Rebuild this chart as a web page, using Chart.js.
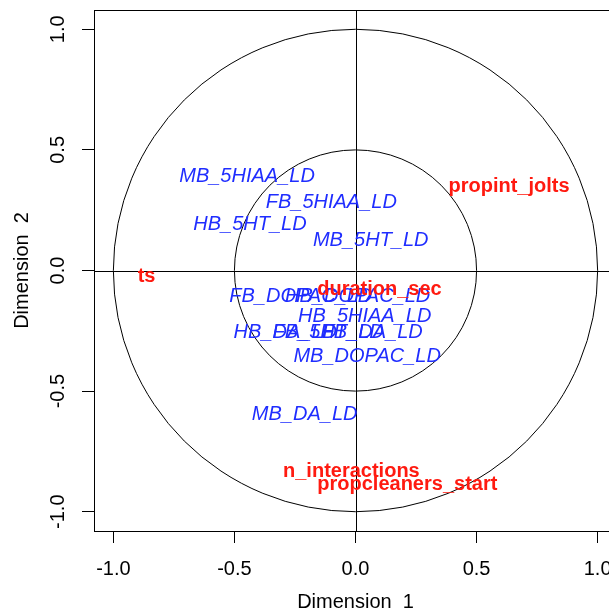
<!DOCTYPE html>
<html>
<head>
<meta charset="utf-8">
<script src="https://cdn.jsdelivr.net/npm/chart.js@4.4.1/dist/chart.umd.min.js"></script>
<style>
  html, body { margin: 0; padding: 0; overflow: hidden; background: #fff; }
  canvas { display: block; }
</style>
</head>
<body>
<canvas id="corrCircle" width="620" height="614"></canvas>
<script>
// variables (label centres)
var blueNames = ["MB_5HIAA_LD", "FB_5HIAA_LD", "HB_5HT_LD", "MB_5HT_LD", "FB_DOPAC_LD", "HB_DOPAC_LD",
  "HB_5HIAA_LD", "HB_DA_LD", "FB_5HT_LD", "FB_DA_LD", "MB_DOPAC_LD", "MB_DA_LD"];
var blueX = [-0.448, -0.100, -0.436, 0.063, -0.226, 0.009, 0.038, -0.290, -0.113, 0.069, 0.048, -0.210];
var blueY = [0.388, 0.281, 0.192, 0.123, -0.106, -0.106, -0.189, -0.256, -0.256, -0.256, -0.355, -0.597];

var redNames = ["propint_jolts", "ts", "duration_sec", "n_interactions", "propcleaners_start"];
var redX = [0.634, -0.863, 0.099, -0.017, 0.214];
var redY = [0.347, -0.024, -0.080, -0.832, -0.887];

var tickVals = [-1.0, -0.5, 0.0, 0.5, 1.0];
var circleRadii = [1.0, 0.5];

var FONT = '"Liberation Sans", Arial, Helvetica, sans-serif';

function toPoints(xs, ys) {
  return xs.map(function (x, i) { return { x: x, y: ys[i] }; });
}

// circles, reference lines and the box, behind the labels
var framePlugin = {
  id: "frame",
  beforeDatasetsDraw: function (chart) {
    var ctx = chart.ctx, a = chart.chartArea;
    var xs = chart.scales.x, ys = chart.scales.y;
    var cx = xs.getPixelForValue(0), cy = ys.getPixelForValue(0);
    ctx.save();
    ctx.strokeStyle = "#000";
    ctx.lineWidth = 1;
    circleRadii.forEach(function (r) {
      var rx = xs.getPixelForValue(r) - cx;
      var ry = cy - ys.getPixelForValue(r);
      ctx.beginPath();
      ctx.ellipse(cx, cy, rx, ry, 0, 0, Math.PI * 2);
      ctx.stroke();
    });
    ctx.beginPath();
    ctx.moveTo(Math.round(cx) + 0.5, a.top);
    ctx.lineTo(Math.round(cx) + 0.5, a.bottom);
    ctx.moveTo(a.left, Math.round(cy) + 0.5);
    ctx.lineTo(a.right, Math.round(cy) + 0.5);
    ctx.stroke();
    ctx.strokeRect(Math.round(a.left) + 0.5, Math.round(a.top) + 0.5,
      Math.round(a.right - a.left), Math.round(a.bottom - a.top));
    ctx.restore();
  },
  afterDatasetsDraw: function (chart) {
    var ctx = chart.ctx;
    ctx.save();
    ctx.textAlign = "center";
    ctx.textBaseline = "middle";
    chart.data.datasets.forEach(function (ds, di) {
      var meta = chart.getDatasetMeta(di);
      ctx.fillStyle = ds.labelColor;
      ctx.font = ds.labelFont;
      meta.data.forEach(function (pt, i) {
        ctx.fillText(ds.names[i], pt.x, pt.y);
      });
    });
    ctx.restore();
  }
};

function setTicks(scale) {
  scale.ticks = tickVals.map(function (v) { return { value: v }; });
}

new Chart(document.getElementById("corrCircle"), {
  type: "scatter",
  data: {
    datasets: [
      {
        label: "X variables",
        data: toPoints(blueX, blueY),
        names: blueNames,
        labelColor: "#1f2dff",
        labelFont: "italic 20px " + FONT,
        pointRadius: 0,
        pointHoverRadius: 0
      },
      {
        label: "Y variables",
        data: toPoints(redX, redY),
        names: redNames,
        labelColor: "#ff1a10",
        labelFont: "bold 20px " + FONT,
        pointRadius: 0,
        pointHoverRadius: 0
      }
    ]
  },
  options: {
    responsive: false,
    animation: false,
    events: [],
    layout: { padding: { left: 0, top: 10, right: 3, bottom: 0 } },
    plugins: { legend: { display: false }, tooltip: { enabled: false } },
    scales: {
      x: {
        type: "linear",
        position: "bottom",
        min: -1.08,
        max: 1.08,
        afterBuildTicks: setTicks,
        afterFit: function (s) { s.height = 83; s.paddingLeft = 0; s.paddingRight = 0; },
        grid: { drawOnChartArea: false, drawTicks: true, tickLength: 12, color: "#000", lineWidth: 1 },
        border: { display: false },
        ticks: {
          color: "#000",
          padding: 14,
          font: { family: FONT, size: 20 },
          callback: function (v) { return v.toFixed(1); }
        },
        title: {
          display: true,
          text: "Dimension  1",
          color: "#000",
          font: { family: FONT, size: 20 },
          padding: { top: 0, bottom: 0 }
        }
      },
      y: {
        type: "linear",
        position: "left",
        min: -1.08,
        max: 1.08,
        afterBuildTicks: setTicks,
        afterFit: function (s) { s.width = 94; s.paddingTop = 0; s.paddingBottom = 0; },
        grid: { drawOnChartArea: false, drawTicks: true, tickLength: 12, color: "#000", lineWidth: 1 },
        border: { display: false },
        ticks: {
          color: "#000",
          padding: 6,
          minRotation: 90,
          maxRotation: 90,
          crossAlign: "center",
          font: { family: FONT, size: 20 },
          callback: function (v) { return v.toFixed(1); }
        },
        title: {
          display: true,
          text: "Dimension  2",
          color: "#000",
          font: { family: FONT, size: 20 },
          padding: { top: 10, bottom: 0 }
        }
      }
    }
  },
  plugins: [framePlugin]
});
</script>
</body>
</html>
